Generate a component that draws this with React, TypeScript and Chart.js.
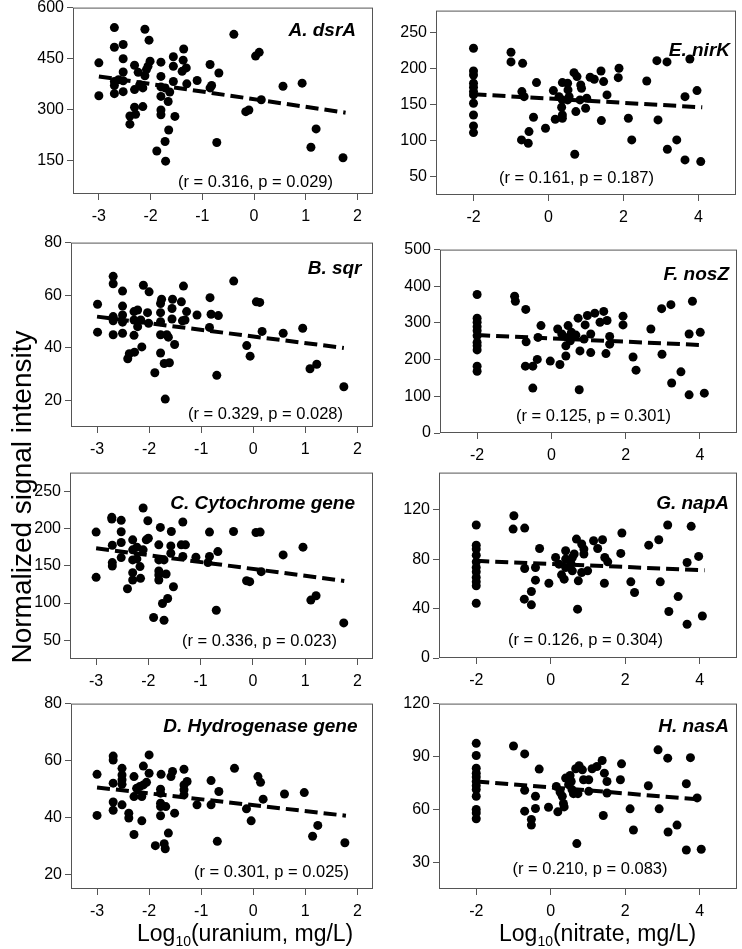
import React, { useEffect, useRef } from "react";
import { Chart, registerables } from "chart.js";

Chart.register(...registerables);

const FONT = '"Liberation Sans", Arial, Helvetica, sans-serif';
const BORDER = "#555555";

// ---------- tick values ----------
const uraniumTicks = [-3, -2, -1, 0, 1, 2];
const nitrateTicks = [-2, 0, 2, 4];
const aYTicks = [150, 300, 450, 600];
const bYTicks = [20, 40, 60, 80];
const cYTicks = [50, 100, 150, 200, 250];
const dYTicks = [20, 40, 60, 80];
const eYTicks = [50, 100, 150, 200, 250];
const fYTicks = [0, 100, 200, 300, 400, 500];
const gYTicks = [0, 40, 80, 120];
const hYTicks = [30, 60, 90, 120];

// ---------- A. dsrA (uranium) ----------
const aX = [-3, -3, -2.7, -2.7, -2.7, -2.7, -2.7, -2.62, -2.53, -2.53, -2.53, -2.53, -2.53, -2.31, -2.31, -2.31, -2.4, -2.4, -2.29, -2.24, -2.21, -2.15, -2.15, -2.11, -2.11, -2.08, -2.03, -2.01, -2.05, -1.8, -1.8, -1.8, -1.8, -1.8, -1.8, -1.88, -1.72, -1.71, -1.72, -1.66, -1.65, -1.63, -1.56, -1.56, -1.56, -1.53, -1.36, -1.37, -1.39, -1.31, -1.3, -1.1, -0.85, -0.82, -0.85, -0.68, -0.72, -0.39, -0.16, -0.1, 0.03, 0.1, 0.14, 0.56, 0.93, 1.1, 1.2, 1.72];
const aY = [437, 340, 541, 483, 382, 370, 346, 387, 491, 449, 410, 384, 352, 430, 358, 306, 280, 256, 285, 409, 372, 308, 363, 536, 399, 417, 504, 442, 427, 439, 397, 366, 338, 298, 284, 177, 205, 147, 363, 323, 239, 351, 455, 427, 382, 279, 478, 445, 412, 422, 375, 385, 432, 370, 363, 407, 202, 521, 293, 298, 457, 468, 328, 368, 377, 188, 242, 157];
const aFitX = [-3, 1.77];
const aFitY = [397, 290];

// ---------- B. sqr ----------
const bX = [-2.99, -2.99, -2.69, -2.69, -2.69, -2.69, -2.69, -2.51, -2.51, -2.51, -2.51, -2.51, -2.29, -2.29, -2.29, -2.41, -2.38, -2.28, -2.22, -2.22, -2.14, -2.11, -2.0, -2.03, -2.01, -2.16, -1.76, -1.78, -1.78, -1.78, -1.78, -1.78, -1.89, -1.69, -1.71, -1.61, -1.66, -1.63, -1.55, -1.56, -1.56, -1.51, -1.38, -1.34, -1.36, -1.28, -1.31, -1.08, -0.83, -0.81, -0.67, -0.84, -0.7, -0.375, -0.125, -0.06, 0.06, 0.125, 0.17, 0.575, 0.95, 1.09, 1.22, 1.74];
const bY = [56.6, 46, 67.2, 64.4, 51.9, 50.3, 45, 61.6, 55.9, 52.5, 49.8, 45.6, 53.8, 50.6, 44.8, 35.9, 37.8, 38.4, 54.4, 48.1, 40.4, 63.8, 61.3, 53.4, 49.4, 50.6, 58.5, 56.9, 53.4, 50, 45, 38.1, 30.6, 20.6, 34.1, 34.4, 45, 44.1, 58.5, 55, 51, 41.3, 57.5, 63.5, 50.3, 53.8, 50.6, 52.5, 59.1, 52.8, 52.3, 47.8, 29.6, 65.4, 40.9, 36.9, 57.5, 57.3, 46.3, 45.6, 47.5, 32.1, 33.8, 25.3];
const bFitX = [-3, 1.74];
const bFitY = [51.9, 40];

// ---------- C. Cytochrome gene ----------
const cX = [-3, -3, -2.7, -2.69, -2.69, -2.69, -2.7, -2.52, -2.52, -2.52, -2.52, -2.4, -2.3, -2.3, -2.3, -2.3, -2.3, -2.22, -2.22, -2.16, -2.15, -2.1, -2.01, -2.04, -2.0, -2.1, -1.77, -1.8, -1.8, -1.8, -1.8, -1.8, -1.9, -1.7, -1.73, -1.63, -1.66, -1.7, -1.56, -1.57, -1.57, -1.52, -1.34, -1.37, -1.29, -1.34, -1.09, -0.83, -0.83, -0.86, -0.67, -0.7, -0.37, -0.12, -0.06, 0.06, 0.14, 0.16, 0.58, 0.96, 1.11, 1.21, 1.74];
const cY = [195.2, 134.5, 212.7, 177.6, 154.3, 149.8, 215, 211, 195.6, 181.2, 161, 119.2, 184.8, 171.4, 157.9, 140.8, 130.9, 175, 159.2, 148.9, 133.2, 227.5, 210.4, 184.8, 187, 171.4, 201.5, 178.1, 157.9, 143, 137.6, 130.9, 80.6, 77, 99.4, 106.2, 139, 157.9, 196, 176.7, 166.9, 121.9, 208.7, 178.1, 178.1, 162.4, 161.5, 195.2, 162.4, 154.3, 169.1, 90.4, 196, 130, 128.7, 194.7, 195.2, 142.1, 164.6, 175, 104, 109.8, 73.4];
const cFitX = [-3, 1.75];
const cFitY = [173.6, 129.6];

// ---------- D. Hydrogenase gene ----------
const dX = [-3, -3, -2.69, -2.69, -2.69, -2.69, -2.69, -2.52, -2.52, -2.52, -2.52, -2.52, -2.39, -2.39, -2.29, -2.29, -2.29, -2.24, -2.18, -2.14, -2.14, -2.11, -2.11, -2.05, -2.0, -2.0, -1.77, -1.78, -1.78, -1.78, -1.78, -1.78, -1.88, -1.71, -1.69, -1.63, -1.68, -1.58, -1.55, -1.51, -1.33, -1.33, -1.33, -1.33, -1.27, -1.08, -0.81, -0.81, -0.66, -0.69, -0.36, -0.13, -0.04, 0.09, 0.14, 0.19, 0.6, 0.98, 1.14, 1.24, 1.76];
const dY = [55.2, 40.8, 61.6, 60.2, 52.1, 45.5, 42.6, 57.3, 55, 53.3, 51.7, 44.5, 41.6, 39.9, 54.4, 47.4, 34.1, 50.3, 50.9, 47.4, 38.9, 58.1, 51.5, 52.4, 62, 55.6, 55.2, 50, 48.6, 45.1, 43.9, 40.7, 30.2, 30.9, 29.1, 34.6, 43.9, 54.4, 56.2, 41.6, 57, 51.5, 49.8, 48, 52.7, 44.5, 53, 44.5, 49.2, 31.7, 57.3, 43.1, 38.9, 54.4, 52.4, 46.5, 48.3, 48.8, 33.5, 37.3, 31.2];
const dFitX = [-3, 1.78];
const dFitY = [50.6, 40.7];

// ---------- E. nirK (nitrate) ----------
const eX = [-2, -2, -2, -2, -2, -2, -2, -2, -2, -2, -2, -1.0, -1.0, -0.69, -0.71, -0.72, -0.54, -0.52, -0.65, -0.4, -0.32, -0.08, 0.13, 0.18, 0.37, 0.37, 0.35, 0.37, 0.37, 0.51, 0.52, 0.55, 0.51, 0.28, 0.68, 0.7, 0.76, 0.73, 0.86, 0.88, 0.84, 1.11, 1.02, 0.99, 1.22, 1.4, 1.47, 1.41, 1.56, 1.88, 1.86, 2.13, 2.22, 2.62, 2.89, 2.92, 3.16, 3.17, 3.42, 3.64, 3.64, 3.77, 3.96, 4.06];
const eY = [227.9, 196.5, 191, 179.5, 174, 168, 163.4, 151.8, 135.7, 120.5, 111.3, 222.4, 209, 207.1, 168, 101.2, 96.6, 112.7, 161, 132.5, 180.4, 117.3, 169.4, 129.7, 180.4, 156.5, 146.3, 135.7, 131.1, 179.5, 170.3, 161, 156.5, 161, 194.2, 81.4, 188.7, 140.3, 177.2, 172.6, 156.5, 187.8, 158.8, 144.9, 185, 196.5, 181.8, 127.9, 163.4, 200.2, 187.3, 131.1, 101.2, 182.7, 210.8, 128.8, 209, 88.3, 101.2, 161, 73.5, 213.1, 169.4, 71.2];
const eFitX = [-2, 4.1];
const eFitY = [164.3, 146.3];

// ---------- F. nosZ ----------
const fX = [-2, -2, -2, -2, -2, -2, -2, -2, -2, -2, -2, -0.99, -0.97, -0.69, -0.68, -0.7, -0.5, -0.5, -0.38, -0.28, -0.36, -0.03, 0.17, 0.23, 0.28, 0.39, 0.39, 0.45, 0.44, 0.51, 0.54, 0.66, 0.72, 0.75, 0.77, 0.88, 0.91, 0.97, 1.06, 1.06, 1.17, 1.31, 1.41, 1.5, 1.57, 1.57, 1.47, 1.93, 1.93, 2.2, 2.28, 2.68, 2.97, 2.98, 3.22, 3.24, 3.49, 3.8, 3.71, 3.71, 4.01, 4.12];
const fY = [377.5, 313, 302, 290, 279, 265, 247, 237.6, 226.5, 182.3, 168.5, 372.9, 359.1, 337, 248.6, 182.3, 182.3, 122.5, 200.7, 292.8, 260.6, 196.1, 283.6, 186.9, 269.8, 237.6, 209.9, 292.8, 260.6, 251.4, 274.4, 267, 313.1, 117.9, 223.8, 256, 294.7, 320.4, 269.8, 219.2, 326.8, 302, 331.5, 306.6, 263.4, 242.2, 216.4, 294.7, 318.6, 207.2, 171.3, 283.6, 338.9, 214.6, 349.9, 136.3, 166.7, 359.1, 269.8, 104, 274.4, 108.7];
const fFitX = [-2, 4.12];
const fFitY = [267, 239.4];

// ---------- G. napA ----------
const gX = [-2, -2, -2, -2, -2, -2, -2, -2, -2, -2, -2, -0.99, -1.01, -0.7, -0.7, -0.71, -0.52, -0.52, -0.41, -0.41, -0.3, -0.05, 0.13, 0.22, 0.29, 0.36, 0.4, 0.4, 0.4, 0.54, 0.58, 0.63, 0.58, 0.69, 0.72, 0.74, 0.83, 0.89, 0.89, 0.83, 0.99, 1.15, 1.26, 1.39, 1.45, 1.44, 1.53, 1.91, 1.88, 2.15, 2.25, 2.63, 2.9, 2.94, 3.14, 3.17, 3.42, 3.66, 3.66, 3.77, 3.97, 4.07];
const gY = [107.6, 91.3, 88.1, 83.2, 77.8, 73.2, 69.7, 65.1, 61.6, 58.4, 44.3, 115.1, 104.3, 105.1, 72.4, 47.6, 53.8, 43, 63, 73.2, 88.6, 60.5, 81.3, 75.9, 67.3, 63.8, 86.8, 80, 73.2, 76.8, 81.3, 84.1, 70.5, 96.2, 39.5, 62.4, 92.2, 88.1, 84.1, 69.2, 70.5, 94.9, 88.6, 95.7, 81.3, 60.5, 77.8, 101.1, 84.6, 61.6, 53, 91.3, 95.7, 61.6, 107.6, 37.6, 49.7, 77.3, 27.3, 106.5, 82.2, 34];
const gFitX = [-2, 4.13];
const gFitY = [78.6, 71];

// ---------- H. nasA ----------
const hX = [-2, -2, -2, -2, -2, -2, -2, -2, -2, -2, -2, -2, -1.0, -0.7, -0.7, -0.7, -0.52, -0.52, -0.41, -0.41, -0.31, -0.06, 0.15, 0.19, 0.25, 0.31, 0.34, 0.36, 0.4, 0.48, 0.52, 0.55, 0.57, 0.61, 0.67, 0.7, 0.76, 0.73, 0.85, 0.88, 1.02, 1.02, 1.11, 1.24, 1.38, 1.44, 1.51, 1.51, 1.41, 1.9, 1.87, 2.13, 2.22, 2.62, 2.88, 2.91, 3.14, 3.15, 3.39, 3.64, 3.64, 3.75, 3.93, 4.04];
const hY = [97.5, 90.6, 83.4, 80.6, 78.4, 75.9, 73.5, 71.3, 67.5, 60, 58.1, 54.8, 96, 91.5, 70.9, 59.1, 54.4, 51.2, 60.6, 67.5, 82.9, 61.3, 73.1, 58.7, 69.9, 67.5, 63.4, 61.5, 77.8, 74.1, 79.3, 75.9, 71.3, 69, 83.1, 40.7, 84.8, 69, 82.5, 76.9, 76.9, 70.3, 83.1, 84.4, 87.8, 80.6, 75.9, 69.4, 56.6, 85.9, 76.9, 60.4, 48.4, 73.5, 93.8, 60.4, 89.1, 47.3, 51.2, 74.6, 37.1, 89.4, 66.6, 37.5];
const hFitX = [-2, 4.09];
const hFitY = [75.9, 65.6];

// ---------- layout ----------
const Y_AXIS_W = 60;
const X_AXIS_H = 35;
const PAD_TOP = 12;
const PAD_RIGHT = 5;

type PanelSpec = {
  id: string;
  xs: number[];
  ys: number[];
  fitX: number[];
  fitY: number[];
  xRange: [number, number];
  yRange: [number, number];
  xTicks: number[];
  yTicks: number[];
  title: string;
  note: string;
  box: [number, number, number, number]; // plot area L,T,R,B in page px
  titleAt: [number, number]; // right edge, baseline
  noteAt: [number, number]; // left edge, baseline
};

const U_RANGE: [number, number] = [-3.5, 2.3];
const N_RANGE: [number, number] = [-3, 5];

const panels: PanelSpec[] = [
  { id: "A", xs: aX, ys: aY, fitX: aFitX, fitY: aFitY, xRange: U_RANGE, yRange: [50, 600], xTicks: uraniumTicks, yTicks: aYTicks, title: "A. dsrA", note: "(r = 0.316, p = 0.029)", box: [73, 7, 373, 194], titleAt: [356, 35.5], noteAt: [178, 186.5] },
  { id: "B", xs: bX, ys: bY, fitX: bFitX, fitY: bFitY, xRange: U_RANGE, yRange: [10, 80], xTicks: uraniumTicks, yTicks: bYTicks, title: "B. sqr", note: "(r = 0.329, p = 0.028)", box: [71, 242, 373, 427], titleAt: [361.5, 273.5], noteAt: [188, 418.5] },
  { id: "C", xs: cX, ys: cY, fitX: cFitX, fitY: cFitY, xRange: U_RANGE, yRange: [25, 275], xTicks: uraniumTicks, yTicks: cYTicks, title: "C. Cytochrome gene", note: "(r = 0.336, p = 0.023)", box: [70, 472, 373, 659], titleAt: [355, 508.5], noteAt: [182, 645.5] },
  { id: "D", xs: dX, ys: dY, fitX: dFitX, fitY: dFitY, xRange: U_RANGE, yRange: [15, 80], xTicks: uraniumTicks, yTicks: dYTicks, title: "D. Hydrogenase gene", note: "(r = 0.301, p = 0.025)", box: [71, 703, 373, 889], titleAt: [357.5, 731.5], noteAt: [194, 877] },
  { id: "E", xs: eX, ys: eY, fitX: eFitX, fitY: eFitY, xRange: N_RANGE, yRange: [25, 280], xTicks: nitrateTicks, yTicks: eYTicks, title: "E. nirK", note: "(r = 0.161, p = 0.187)", box: [436, 10, 736, 195], titleAt: [730, 55.5], noteAt: [499, 182.5] },
  { id: "F", xs: fX, ys: fY, fitX: fFitX, fitY: fFitY, xRange: N_RANGE, yRange: [0, 500], xTicks: nitrateTicks, yTicks: fYTicks, title: "F. nosZ", note: "(r = 0.125, p = 0.301)", box: [440, 249, 737, 433], titleAt: [729, 280], noteAt: [516, 420.5] },
  { id: "G", xs: gX, ys: gY, fitX: gFitX, fitY: gFitY, xRange: N_RANGE, yRange: [0, 150], xTicks: nitrateTicks, yTicks: gYTicks, title: "G. napA", note: "(r = 0.126, p = 0.304)", box: [439, 472, 737, 658], titleAt: [729, 508.5], noteAt: [508, 645] },
  { id: "H", xs: hX, ys: hY, fitX: hFitX, fitY: hFitY, xRange: N_RANGE, yRange: [15, 120], xTicks: nitrateTicks, yTicks: hYTicks, title: "H. nasA", note: "(r = 0.210, p = 0.083)", box: [439, 703, 737, 889], titleAt: [729, 731.5], noteAt: [512.5, 874] },
];

function Panel({ spec }: { spec: PanelSpec }) {
  const ref = useRef<HTMLCanvasElement | null>(null);
  const [L, T, R, B] = spec.box;
  const cl = L - Y_AXIS_W;
  const ct = T - PAD_TOP;
  const w = R - L + Y_AXIS_W + PAD_RIGHT;
  const h = B - T + PAD_TOP + X_AXIS_H;

  useEffect(() => {
    if (!ref.current) return;
    const n = Math.min(spec.xs.length, spec.ys.length);
    const pts = [];
    for (let i = 0; i < n; i++) pts.push({ x: spec.xs[i], y: spec.ys[i] });
    const fit = spec.fitX.map((x, i) => ({ x, y: spec.fitY[i] }));

    const decor = {
      id: "decor" + spec.id,
      beforeDatasetsDraw(chart: any) {
        const { ctx, chartArea: a } = chart;
        ctx.save();
        ctx.strokeStyle = BORDER;
        ctx.lineWidth = 1;
        ctx.strokeRect(a.left + 0.5, a.top + 0.5, a.right - a.left - 1, a.bottom - a.top - 1);
        ctx.restore();
      },
      afterDatasetsDraw(chart: any) {
        const ctx = chart.ctx;
        ctx.save();
        ctx.fillStyle = "#000";
        ctx.textBaseline = "alphabetic";
        ctx.font = `italic bold 19px ${FONT}`;
        ctx.textAlign = "right";
        ctx.fillText(spec.title, spec.titleAt[0] - cl, spec.titleAt[1] - ct);
        ctx.font = `16.5px ${FONT}`;
        ctx.textAlign = "left";
        ctx.fillText(spec.note, spec.noteAt[0] - cl, spec.noteAt[1] - ct);
        ctx.restore();
      },
    };

    const chart = new Chart(ref.current, {
      type: "scatter",
      data: {
        datasets: [
          {
            data: pts,
            pointRadius: 4.5,
            pointHoverRadius: 4.5,
            pointBackgroundColor: "#000",
            pointBorderWidth: 0,
            backgroundColor: "#000",
            borderColor: "#000",
          },
          {
            data: fit,
            showLine: true,
            pointRadius: 0,
            pointHoverRadius: 0,
            borderColor: "#000",
            borderWidth: 4,
            borderDash: [13, 6],
            borderCapStyle: "butt",
            fill: false,
          } as any,
        ],
      },
      options: {
        responsive: false,
        animation: false,
        events: [],
        layout: { padding: { top: PAD_TOP, right: PAD_RIGHT, left: 0, bottom: 0 }, autoPadding: false } as any,
        plugins: { legend: { display: false }, tooltip: { enabled: false }, title: { display: false } },
        scales: {
          x: {
            type: "linear",
            min: spec.xRange[0],
            max: spec.xRange[1],
            afterBuildTicks: (s: any) => {
              s.ticks = spec.xTicks.map((v) => ({ value: v }));
            },
            afterFit: (s: any) => {
              s.height = X_AXIS_H;
            },
            grid: { drawOnChartArea: false, drawTicks: true, tickLength: 6, color: BORDER, lineWidth: 1 },
            border: { display: false },
            ticks: { color: "#000", font: { family: FONT, size: 16 }, padding: 7, maxRotation: 0, autoSkip: false },
          },
          y: {
            type: "linear",
            min: spec.yRange[0],
            max: spec.yRange[1],
            afterBuildTicks: (s: any) => {
              s.ticks = spec.yTicks.map((v) => ({ value: v }));
            },
            afterFit: (s: any) => {
              s.width = Y_AXIS_W;
            },
            grid: { drawOnChartArea: false, drawTicks: true, tickLength: 6, color: BORDER, lineWidth: 1 },
            border: { display: false },
            ticks: { color: "#000", font: { family: FONT, size: 16 }, padding: 3, autoSkip: false },
          },
        },
      },
      plugins: [decor],
    } as any);
    return () => chart.destroy();
  }, []);

  return (
    <canvas
      ref={ref}
      width={w}
      height={h}
      style={{ position: "absolute", left: cl, top: ct, width: w, height: h }}
    />
  );
}

export default function App() {
  const xTitleStyle: React.CSSProperties = {
    position: "absolute",
    top: 922,
    fontFamily: FONT,
    fontSize: 23,
    lineHeight: 1,
    whiteSpace: "nowrap",
    color: "#000",
  };
  const subStyle: React.CSSProperties = {
    fontSize: 14,
    position: "relative",
    top: 5,
    verticalAlign: "baseline",
    lineHeight: 0,
  };
  return (
    <div
      style={{
        position: "absolute",
        left: 0,
        top: 0,
        width: 742,
        height: 949,
        overflow: "hidden",
        background: "#fff",
      }}
    >
      {panels.map((p) => (
        <Panel key={p.id} spec={p} />
      ))}
      <div
        style={{
          position: "absolute",
          left: 22 - 200,
          top: 497 - 14,
          width: 400,
          height: 28,
          fontFamily: FONT,
          fontSize: 28,
          lineHeight: 1,
          textAlign: "center",
          whiteSpace: "nowrap",
          transform: "rotate(-90deg)",
          transformOrigin: "50% 50%",
          color: "#000",
        }}
      >
        Normalized signal intensity
      </div>
      <div style={{ ...xTitleStyle, left: 137 }}>
        Log<span style={subStyle}>10</span>(uranium, mg/L)
      </div>
      <div style={{ ...xTitleStyle, left: 499 }}>
        Log<span style={subStyle}>10</span>(nitrate, mg/L)
      </div>
    </div>
  );
}
